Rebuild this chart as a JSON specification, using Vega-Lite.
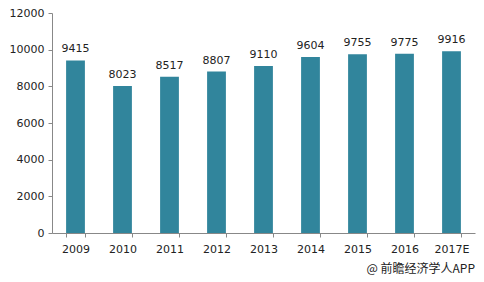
{
  "$schema": "https://vega.github.io/schema/vega-lite/v6.json",
  "width": 423,
  "height": 220,
  "autosize": {"type": "none"},
  "padding": {"left": 52, "top": 13, "right": 9, "bottom": 49},
  "background": "white",
  "data": {"values": [
    {"year": "2009", "value": 9415},
    {"year": "2010", "value": 8023},
    {"year": "2011", "value": 8517},
    {"year": "2012", "value": 8807},
    {"year": "2013", "value": 9110},
    {"year": "2014", "value": 9604},
    {"year": "2015", "value": 9755},
    {"year": "2016", "value": 9775},
    {"year": "2017E", "value": 9916}
  ]},
  "title": {
    "text": "@ 前瞻经济学人APP",
    "orient": "bottom",
    "anchor": "end",
    "offset": 10,
    "font": "Noto Sans CJK SC",
    "fontSize": 12,
    "fontWeight": "normal",
    "color": "#222222"
  },
  "config": {
    "view": {"stroke": null},
    "axis": {"labelFont": "DejaVu Sans", "labelFontSize": 11, "labelColor": "#222222", "domainColor": "#888888", "tickColor": "#888888", "grid": false}
  },
  "encoding": {
    "x": {"field": "year", "type": "ordinal", "sort": null,
      "scale": {"paddingInner": 0.6, "paddingOuter": 0.3},
      "axis": {"title": null, "labelAngle": 0, "tickBand": "extent", "tickSize": 4, "labelPadding": 6}},
    "y": {"field": "value", "type": "quantitative",
      "scale": {"domain": [0, 12000]},
      "axis": {"title": null, "values": [0, 2000, 4000, 6000, 8000, 10000, 12000], "format": "d", "tickSize": 4, "labelPadding": 4}}
  },
  "layer": [
    {"mark": {"type": "bar", "color": "#31859C"}},
    {"mark": {"type": "text", "dy": -11, "font": "DejaVu Sans", "fontSize": 11, "color": "#222222"},
      "encoding": {"text": {"field": "value", "type": "quantitative", "format": "d"}}}
  ]
}
